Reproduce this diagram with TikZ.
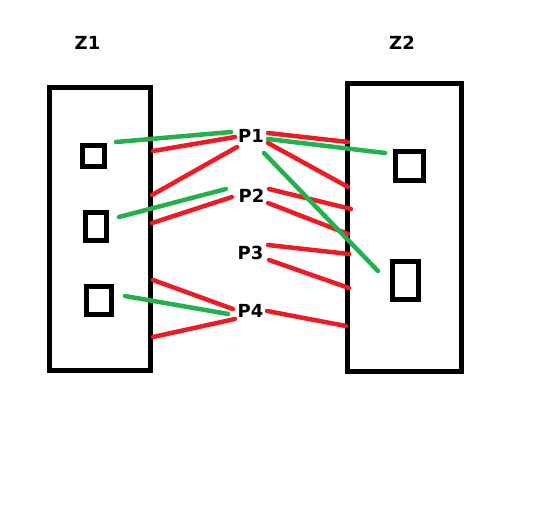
\documentclass[tikz,border=0pt]{standalone}
\usepackage{fontspec}
\setmainfont{DejaVu Sans}
\usepackage{xcolor}
\definecolor{wirered}{HTML}{ED1C24}
\definecolor{wiregreen}{HTML}{22B14C}

\begin{document}
\begin{tikzpicture}[
    x=1pt, y=-1pt,
    font=\fontsize{18}{20}\selectfont\bfseries,
    zone/.style={
        draw,
        line width=5pt,
        inner sep=0pt
    },
    port/.style={
        draw,
        line width=5pt,
        inner sep=0pt
    },
    pin/.style={inner sep=0pt},
    redwire/.style={draw=wirered, line width=4.5pt, line cap=round},
    greenwire/.style={draw=wiregreen, line width=4.5pt, line cap=round}
]
\useasboundingbox (0,0) rectangle (551,517);

% zones
\node[zone, minimum width=101pt, minimum height=283pt] (z1) at (100,229) {};
\node[zone, minimum width=114pt, minimum height=288pt] (z2) at (404.5,227.5) {};
\node (z1label) at (87.5,42.5) {Z1};
\node (z2label) at (402,42.5) {Z2};

% ports inside the zones
\node[port, minimum width=22pt, minimum height=21pt] (a1) at (93.5,156) {};
\node[port, minimum width=21pt, minimum height=28pt] (a2) at (96,226.5) {};
\node[port, minimum width=25pt, minimum height=28pt] (a3) at (99,300.5) {};
\node[port, minimum width=28pt, minimum height=29pt] (b1) at (409.5,166) {};
\node[port, minimum width=26pt, minimum height=38pt] (b2) at (405.5,280.5) {};

% pins
\node[pin] (p1) at (251,135.5) {P1};
\node[pin] (p2) at (251.5,195.5) {P2};
\node[pin] (p3) at (250.5,253) {P3};
\node[pin] (p4) at (250.5,310.5) {P4};

% red wires
\foreach \xa/\ya/\xb/\yb in {
    153/151/235/137, 152/195/237/147, 268/133/348/142, 268/143/348/187,
    152/223/232/197, 269/189/351/209, 268/203/348/234,
    268/245/349/254, 269/260/349/288,
    153/280/233/309, 153/337/235/319, 267/311/346/326}
    \draw[redwire] (\xa,\ya) -- (\xb,\yb);

% green wires
\foreach \xa/\ya/\xb/\yb in {
    116/142/231/132, 268/139/385/153, 264/153/378/271,
    119/217/226/189, 125/296/228/314}
    \draw[greenwire] (\xa,\ya) -- (\xb,\yb);
\end{tikzpicture}
\end{document}
